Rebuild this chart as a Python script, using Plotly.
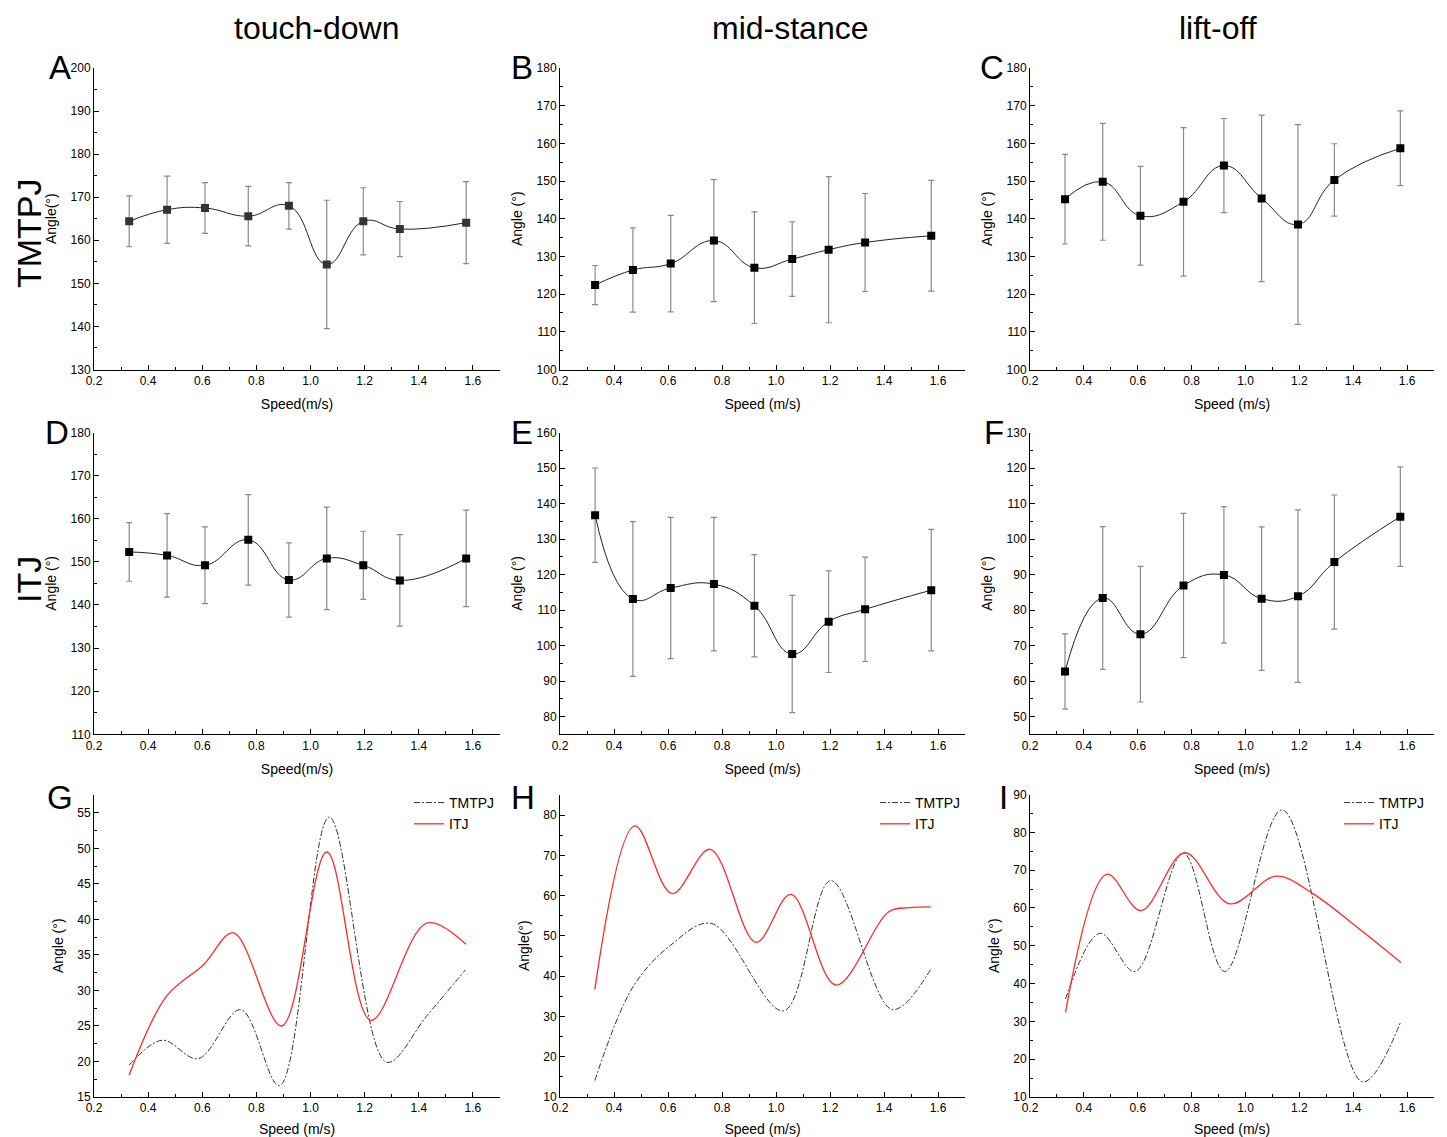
import plotly.graph_objects as go

# the page shows the figure 8 px in from the top-left corner
OFF = 8
W, H = 1447 - OFF, 1137 - OFF

# ---------------- data ----------------
speed = [0.33, 0.47, 0.61, 0.77, 0.92, 1.06, 1.195, 1.33, 1.575]

# Row 1: TMTPJ angle (mean, sd)
tmtpj_td_mean = [164.4, 167.1, 167.5, 165.6, 168.0, 154.4, 164.4, 162.6, 164.1]
tmtpj_td_sd = [5.9, 7.8, 5.9, 6.9, 5.4, 14.9, 7.8, 6.4, 9.5]
tmtpj_ms_mean = [122.4, 126.4, 128.1, 134.2, 127.0, 129.3, 131.8, 133.7, 135.5]
tmtpj_ms_sd = [5.2, 11.2, 12.8, 16.2, 14.8, 9.9, 19.4, 13.0, 14.7]
tmtpj_lo_mean = [145.2, 149.8, 140.8, 144.5, 154.1, 145.4, 138.5, 150.3, 158.7]
tmtpj_lo_sd = [11.9, 15.5, 13.1, 19.7, 12.5, 22.1, 26.5, 9.6, 9.9]

# Row 2: ITJ angle (mean, sd)
itj_td_mean = [152.3, 151.5, 149.2, 155.1, 145.8, 150.8, 149.2, 145.7, 150.8]
itj_td_sd = [6.8, 9.7, 8.9, 10.5, 8.6, 11.9, 7.9, 10.6, 11.2]
itj_ms_mean = [136.7, 113.1, 116.2, 117.3, 111.2, 97.6, 106.7, 110.2, 115.6]
itj_ms_sd = [13.3, 21.8, 19.9, 18.8, 14.4, 16.5, 14.3, 14.7, 17.1]
itj_lo_mean = [62.7, 83.4, 73.2, 86.9, 89.9, 83.2, 83.9, 93.5, 106.3]
itj_lo_sd = [10.6, 20.1, 19.1, 20.3, 19.2, 20.2, 24.3, 18.9, 14.0]

# Row 3: curves (speed, angle)
g_tmtpj_x = [0.33, 0.452, 0.585, 0.742, 0.885, 1.069, 1.281, 1.429, 1.572]
g_tmtpj_y = [19.5, 23.0, 20.4, 27.3, 16.6, 54.4, 19.9, 26.4, 32.9]
g_itj_x = [0.33, 0.468, 0.604, 0.715, 0.893, 1.06, 1.223, 1.429, 1.574]
g_itj_y = [18.1, 29.2, 33.6, 38.1, 25.0, 49.5, 25.8, 39.5, 36.5]

h_tmtpj_x = [0.329, 0.47, 0.61, 0.76, 1.028, 1.203, 1.431, 1.573]
h_tmtpj_y = [14.1, 37.3, 47.7, 53.1, 31.4, 63.7, 31.7, 41.7]
h_itj_x = [0.329, 0.477, 0.615, 0.756, 0.926, 1.055, 1.222, 1.418, 1.493, 1.573]
h_itj_y = [36.7, 77.3, 60.5, 71.5, 48.4, 60.3, 37.8, 56.0, 57.0, 57.2]

i_tmtpj_x = [0.332, 0.46, 0.59, 0.769, 0.923, 1.136, 1.435, 1.577]
i_tmtpj_y = [35.9, 53.3, 43.2, 74.5, 43.2, 85.9, 14.0, 30.0]
i_itj_x = [0.332, 0.485, 0.612, 0.775, 0.941, 1.114, 1.25, 1.422, 1.577]
i_itj_y = [32.4, 68.9, 59.3, 74.6, 61.1, 68.4, 63.8, 54.5, 45.6]

col_titles = ["touch-down", "mid-stance", "lift-off"]
row_titles = ["TMTPJ", "ITJ"]
letters = ["A", "B", "C", "D", "E", "F", "G", "H", "I"]

# ---------------- layout geometry (pixels in the final picture) ----------------
col_px = [(94, 500), (560, 965), (1030, 1434)]
row_px = [(68, 369.5), (432.5, 734.3), (794.5, 1097)]


def px_x(x):
    return (x - OFF) / W


def px_y(y):
    return 1 - (y - OFF) / H


y_ranges = [[130, 200], [100, 180], [100, 180],
            [110, 180], [75, 160], [45, 130],
            [15, 57.6], [10, 85.1], [10, 90]]
y_dticks = [10, 10, 10, 10, 10, 10, 5, 10, 10]
x_titles = ["Speed(m/s)", "Speed (m/s)", "Speed (m/s)",
            "Speed(m/s)", "Speed (m/s)", "Speed (m/s)",
            "Speed (m/s)", "Speed (m/s)", "Speed (m/s)"]
y_titles = ["Angle(°)", "Angle (°)", "Angle (°)",
            "Angle (°)", "Angle (°)", "Angle (°)",
            "Angle (°)", "Angle(°)", "Angle (°)"]

FONT = "Arial, Liberation Sans, sans-serif"

fig = go.Figure()

top_data = [
    (tmtpj_td_mean, tmtpj_td_sd, "#333333"),
    (tmtpj_ms_mean, tmtpj_ms_sd, "black"),
    (tmtpj_lo_mean, tmtpj_lo_sd, "black"),
    (itj_td_mean, itj_td_sd, "black"),
    (itj_ms_mean, itj_ms_sd, "black"),
    (itj_lo_mean, itj_lo_sd, "black"),
]

for k, (m, sd, c) in enumerate(top_data):
    ax = "" if k == 0 else str(k + 1)
    fig.add_trace(go.Scatter(
        x=speed, y=m, mode="lines+markers",
        line=dict(color="#222222", width=1, shape="spline", smoothing=1.3),
        marker=dict(symbol="square", size=8, color=c),
        error_y=dict(type="data", array=sd, visible=True, color="#8a8a8a",
                     thickness=1.2, width=3),
        xaxis="x" + ax, yaxis="y" + ax, showlegend=False))

bottom = [
    (g_tmtpj_x, g_tmtpj_y, g_itj_x, g_itj_y, 7, "legend"),
    (h_tmtpj_x, h_tmtpj_y, h_itj_x, h_itj_y, 8, "legend2"),
    (i_tmtpj_x, i_tmtpj_y, i_itj_x, i_itj_y, 9, "legend3"),
]
for tx, ty, ix, iy, n, lg in bottom:
    fig.add_trace(go.Scatter(
        x=tx, y=ty, mode="lines", name="TMTPJ",
        line=dict(color="#333333", width=1, dash="6px,2px,2px,2px",
                  shape="spline", smoothing=1.0),
        xaxis="x" + str(n), yaxis="y" + str(n), legend=lg))
    fig.add_trace(go.Scatter(
        x=ix, y=iy, mode="lines", name="ITJ",
        line=dict(color="#ff2a2a", width=1.3, shape="spline", smoothing=1.0),
        xaxis="x" + str(n), yaxis="y" + str(n), legend=lg))

layout = dict(
    template="none",
    width=W, height=H,
    margin=dict(l=0, r=0, t=0, b=0, pad=0, autoexpand=False),
    paper_bgcolor="white", plot_bgcolor="white",
    font=dict(family=FONT, color="black", size=12),
)

for k in range(9):
    r, c = divmod(k, 3)
    x0, x1 = col_px[c]
    y0, y1 = row_px[r]
    n = "" if k == 0 else str(k + 1)
    xa = dict(
        domain=[px_x(x0), px_x(x1)], range=[0.2, 1.7], anchor="y" + n,
        automargin=False,
        tickmode="linear", tick0=0.2, dtick=0.2, tickformat=".1f",
        ticks="inside", ticklen=5, tickwidth=1, tickcolor="black",
        minor=dict(ticks="inside", ticklen=3, dtick=0.1, tick0=0.2,
                   tickcolor="black", showgrid=False),
        showline=True, linecolor="black", linewidth=1, showgrid=False,
        zeroline=False, tickfont=dict(size=12),
        title=dict(text=x_titles[k], font=dict(size=14), standoff=12),
    )
    ya = dict(
        domain=[px_y(y1), px_y(y0)], range=y_ranges[k], anchor="x" + n,
        automargin=False,
        tickmode="linear", tick0=0, dtick=y_dticks[k],
        ticks="inside", ticklen=5, tickwidth=1, tickcolor="black",
        minor=dict(ticks="inside", ticklen=3, dtick=y_dticks[k] / 2,
                   tick0=0, tickcolor="black", showgrid=False),
        showline=True, linecolor="black", linewidth=1, showgrid=False,
        zeroline=False, tickfont=dict(size=12),
        title=dict(text=y_titles[k], font=dict(size=14), standoff=10),
    )
    layout["xaxis" + n] = xa
    layout["yaxis" + n] = ya

leg_common = dict(bgcolor="rgba(0,0,0,0)", font=dict(size=14),
                  xanchor="left", yanchor="top", tracegroupgap=0,
                  itemwidth=30, borderwidth=0)
layout["legend"] = dict(x=px_x(409), y=px_y(787), **leg_common)
layout["legend2"] = dict(x=px_x(875), y=px_y(787), **leg_common)
layout["legend3"] = dict(x=px_x(1339), y=px_y(787), **leg_common)

annotations = []
for c, t in enumerate(col_titles):
    cx = [316, 790, 1218][c]
    annotations.append(dict(text=t, x=px_x(cx), y=px_y(28), xref="paper",
                            yref="paper", showarrow=False,
                            font=dict(size=32, family=FONT),
                            xanchor="center", yanchor="middle"))
for r, t in enumerate(row_titles):
    cy = [233, 580][r]
    annotations.append(dict(text=t, x=px_x(9), y=px_y(cy), xref="paper",
                            yref="paper", showarrow=False, textangle=-90,
                            font=dict(size=34, family=FONT), borderpad=0,
                            xanchor="left", yanchor="middle"))
letter_pos = [(60, 68), (522, 68), (992, 68),
              (57, 432), (522, 432), (994, 432),
              (60, 797), (523, 797), (1003, 797)]
for L, (lx, ly) in zip(letters, letter_pos):
    annotations.append(dict(text=L, x=px_x(lx), y=px_y(ly), xref="paper",
                            yref="paper", showarrow=False,
                            font=dict(size=33, family=FONT),
                            xanchor="center", yanchor="middle"))
layout["annotations"] = annotations

fig.update_layout(**layout)
fig.write_html("out.html")
